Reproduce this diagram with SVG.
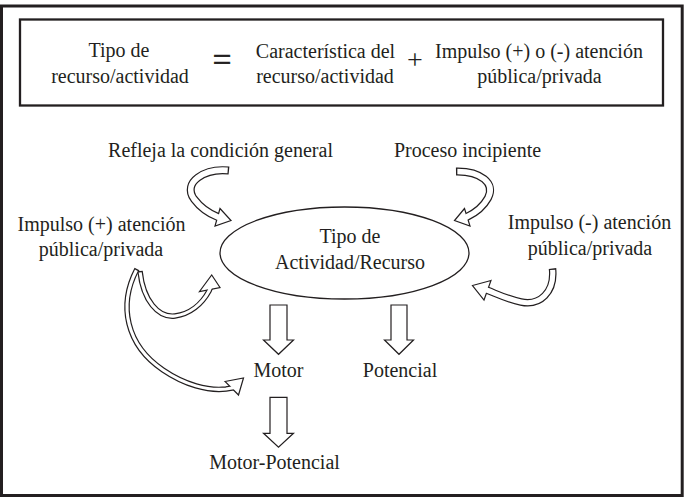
<svg xmlns="http://www.w3.org/2000/svg" width="687" height="499" viewBox="0 0 687 499">
<style>
text { font-family: "Liberation Serif", "Times New Roman", serif; font-size: 20px; fill: #231f20; text-anchor: middle; }
.frame { fill: none; stroke: #231f20; }
.blk { fill: none; stroke: #231f20; }
.wht { fill: none; stroke: #ffffff; stroke-dasharray: 0 1.3 3000; }
.head { fill: #ffffff; stroke: #231f20; stroke-width: 1.2; stroke-linejoin: miter; }
.block { fill: #ffffff; stroke: #231f20; stroke-width: 1.2; }
</style>
<rect x="0" y="0" width="687" height="499" fill="#ffffff"/>
<rect class="frame" x="1.5" y="6" width="680.7" height="489.5" stroke-width="3"/>

<g id="formula">
  <rect class="frame" x="20" y="19.5" width="643" height="86" stroke-width="2.3"/>
  <text x="119" y="57">Tipo de</text>
  <text x="120" y="83">recurso/actividad</text>
  <text x="222" y="71" style="font-size:33px;stroke:#231f20;stroke-width:0.7">=</text>
  <text x="325.5" y="58">Característica del</text>
  <text x="325" y="83">recurso/actividad</text>
  <text x="415" y="69" style="font-size:28px">+</text>
  <text x="539" y="58">Impulso (+) o (-) atención</text>
  <text x="539.5" y="83">pública/privada</text>
</g>

<g id="refleja">
  <text x="220.5" y="157">Refleja la condición general</text>
</g>
<g id="proceso">
  <text x="467.5" y="157">Proceso incipiente</text>
</g>
<g id="impulso-pos">
  <text x="101.5" y="231">Impulso (+) atención</text>
  <text x="101" y="256">pública/privada</text>
</g>
<g id="impulso-neg">
  <text x="589.5" y="229">Impulso (-) atención</text>
  <text x="590" y="255">pública/privada</text>
</g>
<g id="tipo">
  <ellipse cx="344.5" cy="253" rx="124.5" ry="46" fill="none" stroke="#231f20" stroke-width="1.3"/>
  <text x="350" y="243">Tipo de</text>
  <text x="350" y="269">Actividad/Recurso</text>
</g>
<g id="motor">
  <text x="278.5" y="377">Motor</text>
</g>
<g id="potencial">
  <text x="400" y="377">Potencial</text>
</g>
<g id="motor-potencial">
  <text x="274.5" y="469">Motor-Potencial</text>
</g>

<g id="connectors">
  <path class="blk" stroke-width="8" d="M229,170.5 C205,168 182,182 194,199 C200,207 208,213 217.5,216.8 L222,218.5"/>
  <path class="blk" stroke-width="8" d="M456,171.5 C480,171 496,183 488,198 C483,207 475,213 467,216.8 L462.5,218.3"/>
  <path class="blk" stroke-width="5.5" d="M140,271 C143,300 158,318 175,316 C190,314 202,304 209,291 L211,286"/>
  <path class="blk" stroke-width="5.5" d="M137,269 C118,305 126,345 163,370 C185,385 208,391 226,389 L235,387.5"/>
  <path class="blk" stroke-width="7.5" d="M552.5,268.5 C555,292 540,306 521,302 C507,299 497,294 488,290.5 L483.5,289"/>

  <polygon class="head" points="220,208.5 231,220.5 215,226"/>
  <polygon class="head" points="464.5,208.5 454.5,220.5 470,226"/>
  <polygon class="head" points="199.5,291.5 211.7,275 220,287.5"/>
  <polygon class="head" points="225,381.5 243.5,378 238.5,395"/>
  <polygon class="head" points="491,280.5 472.5,285.5 484,300"/>

  <path class="wht" stroke-width="5.6" d="M229,170.5 C205,168 182,182 194,199 C200,207 208,213 217.5,216.8 L222,218.5"/>
  <path class="wht" stroke-width="5.6" d="M456,171.5 C480,171 496,183 488,198 C483,207 475,213 467,216.8 L462.5,218.3"/>
  <path class="wht" stroke-width="3.1" d="M140,271 C143,300 158,318 175,316 C190,314 202,304 209,291 L211,286"/>
  <path class="wht" stroke-width="3.1" d="M137,269 C118,305 126,345 163,370 C185,385 208,391 226,389 L235,387.5"/>
  <path class="wht" stroke-width="5.1" d="M552.5,268.5 C555,292 540,306 521,302 C507,299 497,294 488,290.5 L483.5,289"/>

  <polygon class="block" points="270,305 287,305 287,340 293.5,340 278.5,354.3 263.5,340 270,340"/>
  <polygon class="block" points="391,305 407,305 407,340 413.5,340 399,354.3 384.5,340 391,340"/>
  <polygon class="block" points="270,397.3 287,397.3 287,433.3 293.5,433.3 278.5,447.3 263.5,433.3 270,433.3"/>
</g>
</svg>
